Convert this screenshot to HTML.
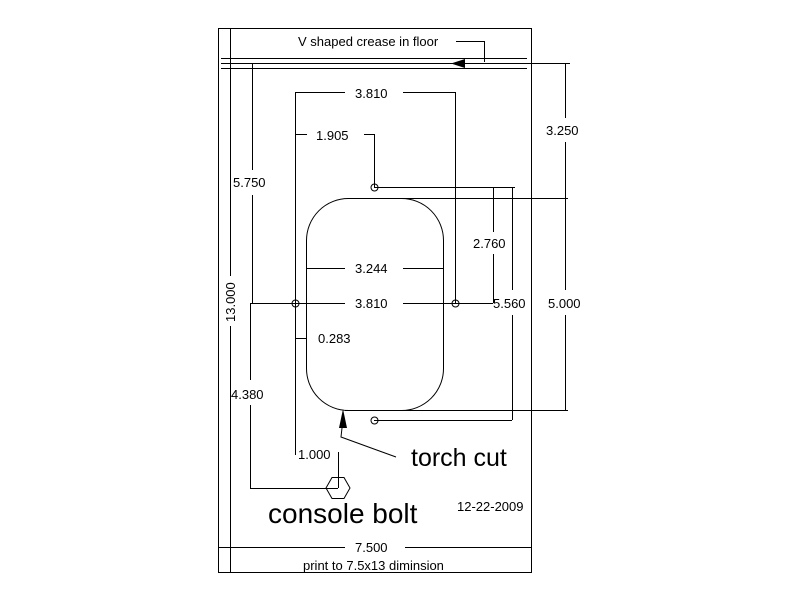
<!DOCTYPE html>
<html><head><style>
body{margin:0;background:#fff}
svg text{font-family:"Liberation Sans",Arial,sans-serif;fill:#000}
</style></head><body>
<svg width="800" height="600" viewBox="0 0 800 600" xmlns="http://www.w3.org/2000/svg">
<g stroke="#000" stroke-width="1" fill="none" shape-rendering="crispEdges">
<rect x="218.5" y="28.5" width="313" height="544"/>
<line x1="230.5" y1="28" x2="230.5" y2="276"/>
<line x1="230.5" y1="326" x2="230.5" y2="573"/>
<line x1="221" y1="58.5" x2="527" y2="58.5"/>
<line x1="221" y1="63.5" x2="570" y2="63.5"/>
<line x1="221" y1="68.5" x2="527" y2="68.5"/>
<polyline points="456,41.5 484.5,41.5 484.5,62"/>
<line x1="252.5" y1="63" x2="252.5" y2="170"/>
<line x1="252.5" y1="195" x2="252.5" y2="303"/>
<line x1="250.5" y1="303" x2="250.5" y2="380"/>
<line x1="250.5" y1="405" x2="250.5" y2="488"/>
<line x1="250" y1="488.5" x2="338" y2="488.5"/>
<line x1="295" y1="92.5" x2="345" y2="92.5"/>
<line x1="403" y1="92.5" x2="455" y2="92.5"/>
<line x1="295.5" y1="92" x2="295.5" y2="455"/>
<line x1="455.5" y1="92" x2="455.5" y2="303"/>
<line x1="295" y1="134.5" x2="307" y2="134.5"/>
<line x1="364" y1="134.5" x2="374" y2="134.5"/>
<line x1="374.5" y1="134" x2="374.5" y2="187"/>
<line x1="374" y1="187.5" x2="515" y2="187.5"/>
<line x1="565.5" y1="63" x2="565.5" y2="118"/>
<line x1="565.5" y1="142" x2="565.5" y2="290"/>
<line x1="565.5" y1="315" x2="565.5" y2="410"/>
<line x1="400" y1="198.5" x2="568" y2="198.5"/>
<line x1="345" y1="410.5" x2="568" y2="410.5"/>
<line x1="493.5" y1="187" x2="493.5" y2="232"/>
<line x1="493.5" y1="254" x2="493.5" y2="303"/>
<line x1="512.5" y1="187" x2="512.5" y2="290"/>
<line x1="512.5" y1="315" x2="512.5" y2="420"/>
<line x1="374" y1="420.5" x2="512" y2="420.5"/>
<line x1="306" y1="268.5" x2="345" y2="268.5"/>
<line x1="403" y1="268.5" x2="443" y2="268.5"/>
<line x1="250" y1="303.5" x2="345" y2="303.5"/>
<line x1="403" y1="303.5" x2="493" y2="303.5"/>
<line x1="295" y1="338.5" x2="306" y2="338.5"/>
<line x1="218" y1="547.5" x2="345" y2="547.5"/>
<line x1="405" y1="547.5" x2="532" y2="547.5"/>
<line x1="338.5" y1="452" x2="338.5" y2="488"/>
</g>
<g stroke="#000" stroke-width="1" fill="none">
<rect x="306.5" y="198.5" width="137" height="212" rx="42" ry="42"/>
<circle cx="374.5" cy="187.5" r="3.5"/>
<circle cx="295.5" cy="303.5" r="3.5"/>
<circle cx="455.5" cy="303.5" r="3.5"/>
<circle cx="374.5" cy="420.5" r="3.5"/>
<polygon points="326,488 332,477.5 344,477.5 350,488 344,498.5 332,498.5"/>
<polyline points="342,428 341,437 396,457"/>
</g>
<polygon points="343,409 339,428 347,428" fill="#000"/>
<polygon points="451,63.5 465,59 465,68" fill="#000"/>
<g font-size="13">
<text x="298" y="46">V shaped crease in floor</text>
<text x="355" y="98">3.810</text>
<text x="316" y="140">1.905</text>
<text x="233" y="187">5.750</text>
<text x="546" y="135">3.250</text>
<text x="473" y="248">2.760</text>
<text x="355" y="273">3.244</text>
<text x="355" y="308">3.810</text>
<text x="493" y="308">5.560</text>
<text x="548" y="308">5.000</text>
<text x="318" y="343">0.283</text>
<text x="231" y="399">4.380</text>
<text x="298" y="459">1.000</text>
<text x="457" y="511">12-22-2009</text>
<text x="355" y="552">7.500</text>
<text x="303" y="570">print to 7.5x13 diminsion</text>
<text transform="translate(235,322) rotate(-90)">13.000</text>
</g>
<text x="411" y="466" font-size="25">torch cut</text>
<text x="268" y="523" font-size="28">console bolt</text>
</svg>
</body></html>
